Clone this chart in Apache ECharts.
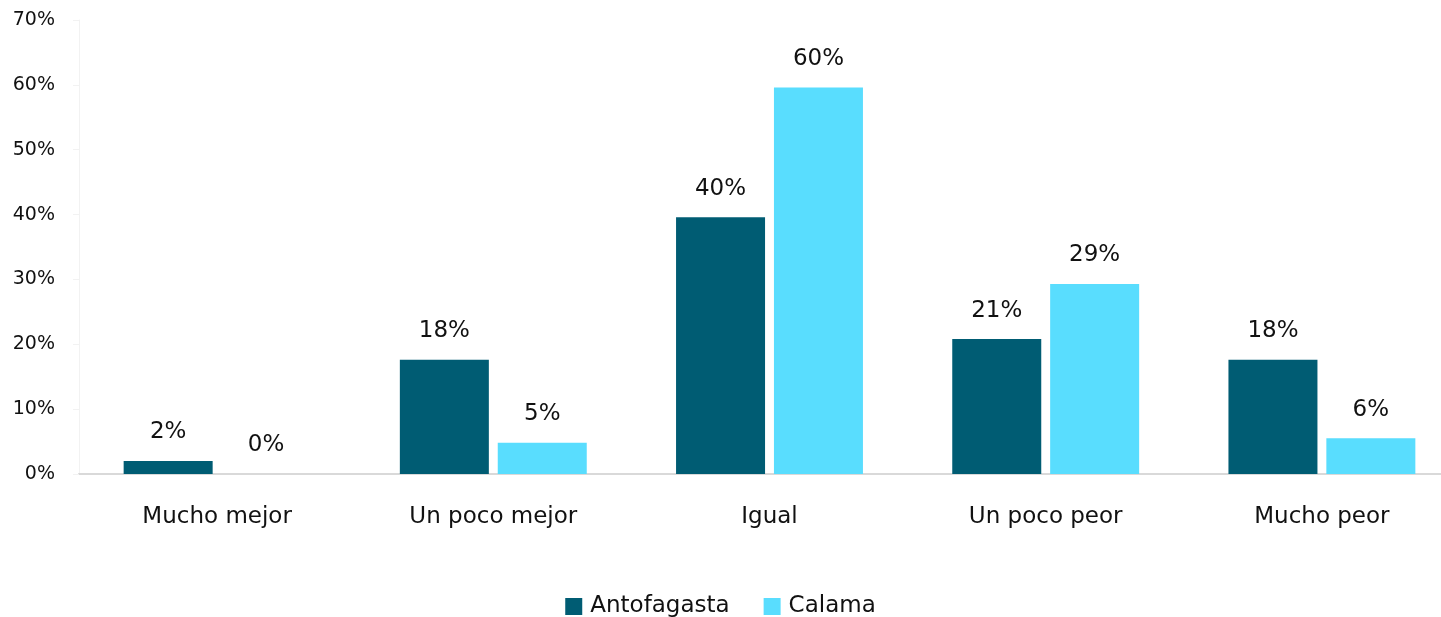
<!DOCTYPE html>
<html>
<head>
<meta charset="utf-8">
<script src="https://cdn.jsdelivr.net/npm/echarts@6/dist/echarts.min.js"></script>
<style>
  html, body { margin: 0; padding: 0; background: #fff; }
  #main { width: 1441px; height: 617px; }
</style>
</head>
<body>
<div id="main"></div>
<script>
    var categories = ['Mucho mejor', 'Un poco mejor', 'Igual', 'Un poco peor', 'Mucho peor'];
    var antofagasta = [2.0, 17.6, 39.6, 20.8, 17.6];
    var calama = [0, 4.8, 59.6, 29.3, 5.5];
    var yTicks = [0, 10, 20, 30, 40, 50, 60, 70];

    var font = '"DejaVu Sans", sans-serif';
    var colorA = '#005c73';
    var colorC = '#59ddfe';

    var chart = echarts.init(document.getElementById('main'));

    function labelOpt() {
        return {
            show: true,
            position: 'top',
            distance: 17,
            color: '#111',
            fontSize: 23,
            fontFamily: font,
            formatter: function (p) { return Math.round(p.value) + '%'; }
        };
    }

    var option = {
        animation: false,
        textStyle: { fontFamily: font },
        grid: { left: 79, width: 1381, top: 20, bottom: 143, containLabel: false, outerBoundsMode: 'none' },
        legend: {
            top: 590,
            left: 'center',
            itemWidth: 17,
            itemHeight: 17,
            itemGap: 34,
            icon: 'rect',
            textStyle: { fontSize: 23, color: '#111', fontFamily: font, padding: [0, 0, 0, 3] },
            data: ['Antofagasta', 'Calama']
        },
        xAxis: {
            type: 'category',
            data: categories,
            axisLine: { show: true, lineStyle: { color: '#d9d9d9', width: 2 } },
            axisTick: { show: false },
            axisLabel: { margin: 32, fontSize: 23, color: '#111', fontFamily: font }
        },
        yAxis: {
            type: 'value',
            min: yTicks[0],
            max: yTicks[yTicks.length - 1],
            interval: 10,
            axisLine: { show: true, lineStyle: { color: '#f2f2f2', width: 1 } },
            axisTick: { show: true, length: 6, lineStyle: { color: '#f2f2f2' } },
            splitLine: { show: false },
            axisLabel: {
                margin: 24,
                fontSize: 19,
                color: '#111',
                fontFamily: font,
                formatter: '{value}%'
            }
        },
        series: [
            {
                name: 'Antofagasta',
                type: 'bar',
                data: antofagasta,
                barWidth: 89,
                barGap: '10%',
                itemStyle: { color: colorA },
                label: labelOpt()
            },
            {
                name: 'Calama',
                type: 'bar',
                data: calama,
                barWidth: 89,
                itemStyle: { color: colorC },
                label: labelOpt()
            }
        ]
    };
    chart.setOption(option);
</script>
</body>
</html>
